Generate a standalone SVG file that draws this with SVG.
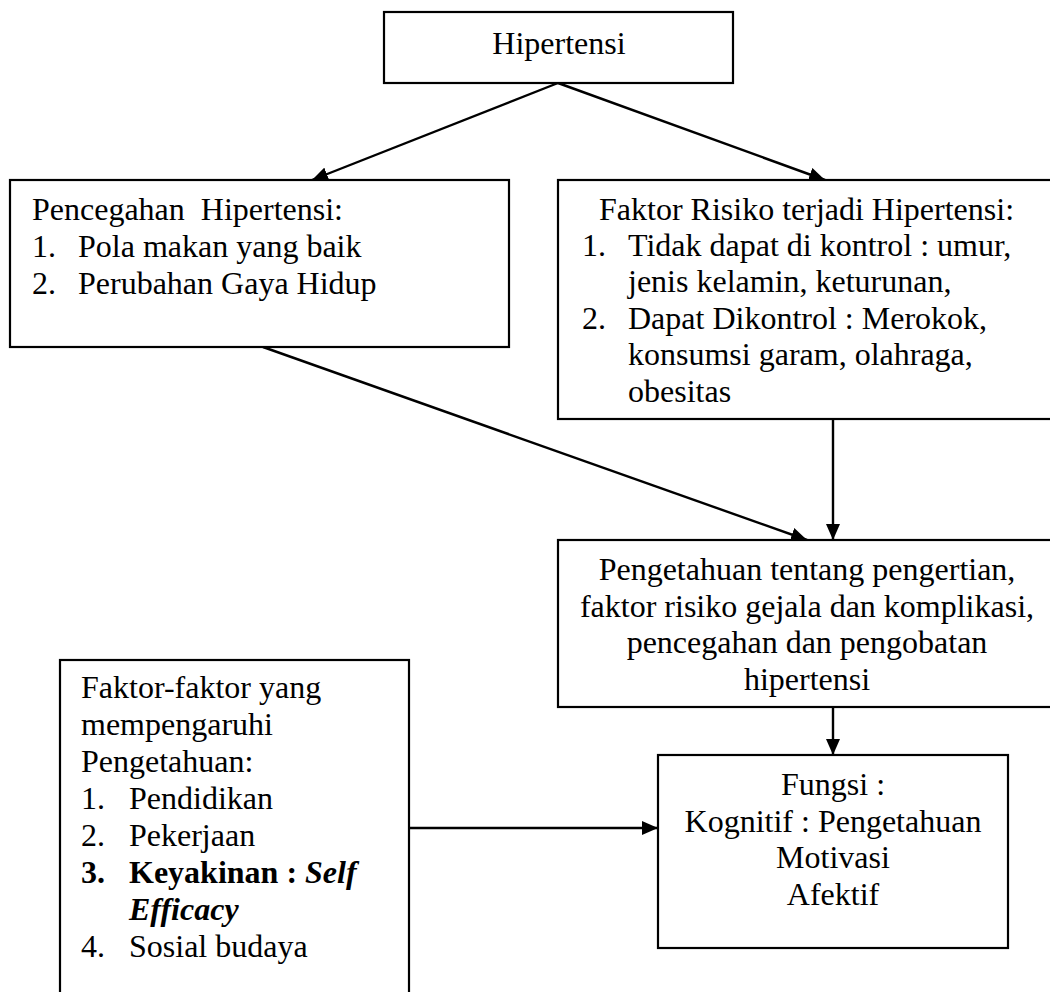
<svg xmlns="http://www.w3.org/2000/svg" width="1050" height="992" viewBox="0 0 1050 992">
<style>
.box{fill:#fff;stroke:#000;stroke-width:2.2}
.t{font-family:"Liberation Serif","Times New Roman",serif;font-size:32px;fill:#000}
.c{text-anchor:middle}
.b{font-weight:bold}
.bi{font-weight:bold;font-style:italic}
.con{stroke:#000;stroke-width:2.4;fill:none;marker-end:url(#ah)}
</style>
<defs>
<marker id="ah" markerUnits="userSpaceOnUse" markerWidth="17" markerHeight="14" refX="16" refY="7" orient="auto">
<path d="M0,0 L16,7 L0,14 z" fill="#000"/>
</marker>
</defs>
<rect width="1050" height="992" fill="#fff"/>
<g id="connectors">
<line class="con" x1="558" y1="83" x2="312" y2="180"/>
<line class="con" x1="558" y1="83" x2="825" y2="180"/>
<line class="con" x1="263" y1="347" x2="807" y2="540"/>
<line class="con" x1="833" y1="419" x2="833" y2="540"/>
<line class="con" x1="833" y1="707" x2="833" y2="755"/>
<line class="con" x1="409" y1="828" x2="658" y2="828"/>
</g>
<g id="hipertensi">
<rect class="box" x="384" y="12" width="349" height="71"/>
<text class="t c" x="559" y="54">Hipertensi</text>
</g>
<g id="pencegahan">
<rect class="box" x="10" y="180" width="499" height="167"/>
<text class="t" x="32" y="220" xml:space="preserve">Pencegahan  Hipertensi:</text>
<text class="t" x="32" y="257">1.</text><text class="t" x="78" y="257">Pola makan yang baik</text>
<text class="t" x="32" y="294">2.</text><text class="t" x="78" y="294">Perubahan Gaya Hidup</text>
</g>
<g id="faktor-risiko">
<rect class="box" x="558" y="180" width="497" height="239"/>
<text class="t" x="599" y="220">Faktor Risiko terjadi Hipertensi:</text>
<text class="t" x="582" y="256">1.</text><text class="t" x="628" y="256">Tidak dapat di kontrol : umur,</text>
<text class="t" x="628" y="292">jenis kelamin, keturunan,</text>
<text class="t" x="582" y="329">2.</text><text class="t" x="628" y="329">Dapat Dikontrol : Merokok,</text>
<text class="t" x="628" y="365">konsumsi garam, olahraga,</text>
<text class="t" x="628" y="402">obesitas</text>
</g>
<g id="pengetahuan">
<rect class="box" x="558" y="540" width="497" height="167"/>
<text class="t c" x="807" y="580">Pengetahuan tentang pengertian,</text>
<text class="t c" x="807" y="617">faktor risiko gejala dan komplikasi,</text>
<text class="t c" x="807" y="653">pencegahan dan pengobatan</text>
<text class="t c" x="807" y="690">hipertensi</text>
</g>
<g id="faktor-faktor">
<rect class="box" x="60" y="660" width="349" height="340"/>
<text class="t" x="81" y="698">Faktor-faktor yang</text>
<text class="t" x="81" y="735">mempengaruhi</text>
<text class="t" x="81" y="772">Pengetahuan:</text>
<text class="t" x="81" y="809">1.</text><text class="t" x="129" y="809">Pendidikan</text>
<text class="t" x="81" y="846">2.</text><text class="t" x="129" y="846">Pekerjaan</text>
<text class="t b" x="81" y="883">3.</text><text class="t" x="129" y="883"><tspan class="b">Keyakinan : </tspan><tspan class="bi">Self</tspan></text>
<text class="t bi" x="129" y="920">Efficacy</text>
<text class="t" x="81" y="957">4.</text><text class="t" x="129" y="957">Sosial budaya</text>
</g>
<g id="fungsi">
<rect class="box" x="658" y="755" width="350" height="193"/>
<text class="t c" x="833" y="795">Fungsi :</text>
<text class="t c" x="833" y="832">Kognitif : Pengetahuan</text>
<text class="t c" x="833" y="868">Motivasi</text>
<text class="t c" x="833" y="905">Afektif</text>
</g>
</svg>
